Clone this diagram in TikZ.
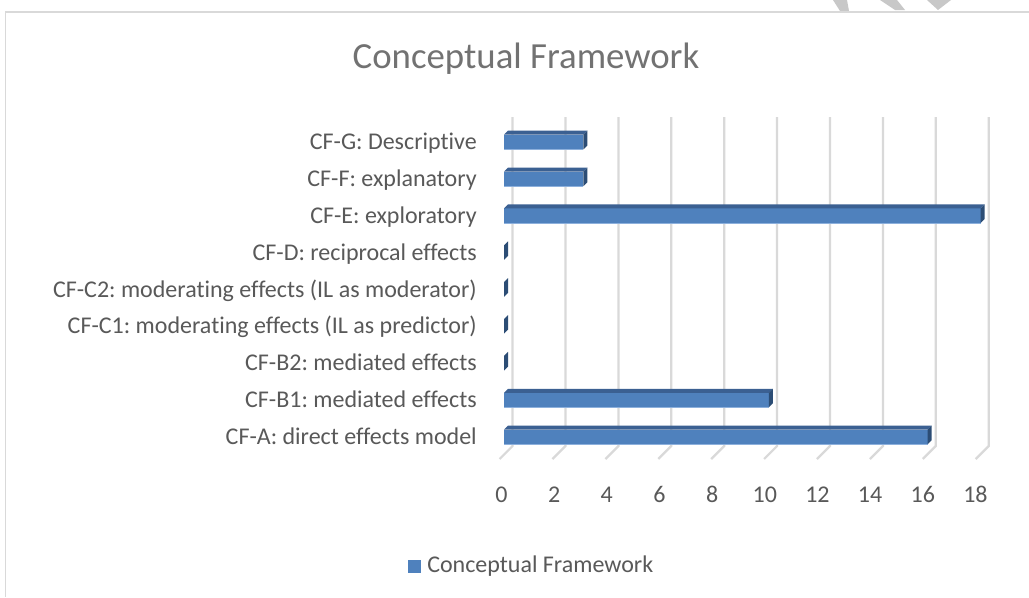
\documentclass[tikz,border=0pt]{standalone}
\usepackage{fontspec}
\setmainfont{Carlito}[Ligatures=NoCommon]
\frenchspacing
\definecolor{txt}{HTML}{595959}
\definecolor{gridc}{HTML}{D9D9D9}
\definecolor{barF}{HTML}{4F81BD}
\definecolor{barT}{HTML}{3B6092}
\definecolor{barS}{HTML}{2C4D75}
\definecolor{barL}{HTML}{8DB0DC}
\definecolor{wmark}{HTML}{C8C8C8}
\tikzset{
  lbl/.style={font=\fontsize{18}{21}\selectfont, text=txt, inner sep=0pt},
  catlbl/.style={lbl, anchor=base east},
  ticklbl/.style={lbl, anchor=base},
  gridline/.style={draw=gridc, line width=1.7pt},
  frontface/.style={fill=barF},
  topface/.style={fill=barT},
  sideface/.style={fill=barS},
  edgeline/.style={draw=barL, line width=0.8pt},
  frameline/.style={draw=gridc, line width=1.4pt},
  titlelbl/.style={font=\fontsize{27.6}{32}\selectfont, text=txt!85, inner sep=0pt, anchor=base}
}
\begin{document}
\begin{tikzpicture}[x=0.75pt,y=-0.75pt]
\useasboundingbox (0,0) rectangle (1029,597);
\fill[white] (0,0) rectangle (1029,597);
% watermark fragments
\fill[wmark] (833,0) -- (847,0) -- (849,11) -- (840,11) -- cycle;
\fill[wmark] (880,0) -- (897,0) -- (905,10) -- (895,10) -- cycle;
\fill[wmark] (927,0) -- (951,0) -- (938,10) -- cycle;
% frame
\draw[frameline] (1029,12) -- (5.5,12) -- (5.5,597);
% title
\node[titlelbl] (title) at (526,68) {Conceptual Framework};
% gridlines
\foreach \v in {0,2,...,18}{
  \pgfmathsetmacro\xb{512.6+26.45*\v}
  \draw[gridline] (\xb,117) -- (\xb,446) -- ({\xb-13},459);
  \node[ticklbl] (tick\v) at ({501.5+26.33*\v},502) {\v};
}
% bars and category labels
\foreach \k/\v/\t in {0/3/{CF-G: Descriptive},1/3/{CF-F: explanatory},2/18/{CF-E: exploratory},3/0/{CF-D: reciprocal effects},4/0/{CF-C2: moderating effects (IL as moderator)\hspace{3.6pt}},5/0/{CF-C1: moderating effects (IL as predictor)},6/0/{CF-B2: mediated effects},7/10/{CF-B1: mediated effects},8/16/{CF-A: direct effects model}}{
  \pgfmathsetmacro\yc{142+36.875*\k}
  \pgfmathsetmacro\yt{\yc-7.3}
  \pgfmathsetmacro\yb{\yc+7.3}
  \pgfmathsetmacro\xe{504+26.48*\v}
  \ifnum\v>0
    \fill[frontface] (504,\yt) rectangle (\xe,\yb);
    \draw[edgeline] (504,\yb) -- (\xe,\yb);
    \fill[topface] (504,\yt) -- (508,{\yt-4}) -- ({\xe+4},{\yt-4}) -- (\xe,\yt) -- cycle;
  \fi
  \fill[sideface] (\xe,\yt) -- ({\xe+4},{\yt-4}) -- ({\xe+4},{\yb-4}) -- (\xe,\yb) -- cycle;
  \node[catlbl] (cat\k) at (477,{\yc+7.6}) {\t};
}
% legend
\fill[barF] (407.5,560) rectangle (421,573.3) coordinate (legsq);
\node[lbl, anchor=base west] (legend) at (427,572.3) {Conceptual Framework};
\end{tikzpicture}
\end{document}
